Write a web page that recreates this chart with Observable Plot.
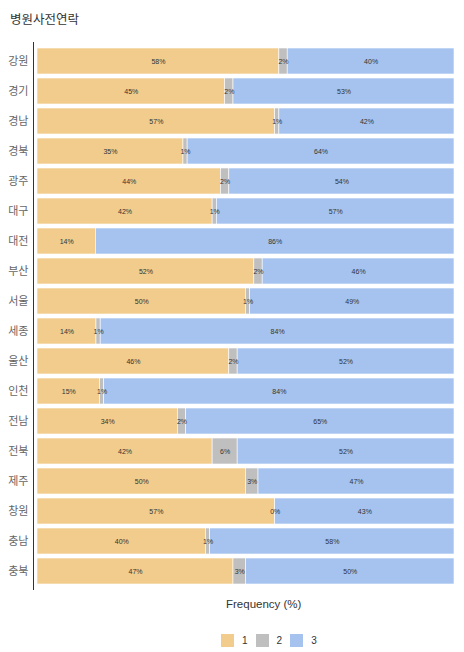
<!DOCTYPE html>
<html>
<head>
<meta charset="utf-8">
<script src="https://cdn.jsdelivr.net/npm/d3@7"></script>
<script src="https://cdn.jsdelivr.net/npm/@observablehq/plot@0.6"></script>
<style>
  html, body { margin: 0; padding: 0; background: #fff; }
  body { width: 464px; height: 652px; position: relative; overflow: hidden;
         font-family: "Liberation Sans", "Noto Sans CJK KR", sans-serif; }
  #title { position: absolute; left: 10px; top: 14px; font-size: 12.5px; line-height: 1; color: #333; z-index: 2; }
  #chart { position: absolute; left: 0; top: 0; z-index: 1; }
  #xlabel { position: absolute; left: 226px; top: 599px; font-size: 11.5px; line-height: 1; color: #333; z-index: 2; }
  #legend { position: absolute; left: 221px; top: 634px; display: flex; align-items: center; font-size: 10px; color: #333; z-index: 2; }
  .item { display: flex; align-items: center; margin-right: 8px; }
  .sw { width: 13px; height: 13px; margin-right: 8px; }
</style>
</head>
<body>
<div id="chart"></div>
<div id="title">병원사전연락</div>
<div id="xlabel">Frequency (%)</div>
<div id="legend"></div>
<script>
const regions = ["강원","경기","경남","경북","광주","대구","대전","부산","서울","세종","울산","인천","전남","전북","제주","창원","충남","충북"];
const series1 = [58,45,57,35,44,42,14,52,50,14,46,15,34,42,50,57,40,47];
const series2 = [2,2,1,1,2,1,null,2,1,1,2,1,2,6,3,0,1,3];
const series3 = [40,53,42,64,54,57,86,46,49,84,52,84,65,52,47,43,58,50];
const categories = ["1","2","3"];
const colors = ["#F1CC8C","#BFBFBF","#A5C3EE"];

const seriesList = [series1, series2, series3];
const data = [];
regions.forEach((r, i) => {
  categories.forEach((c, k) => {
    const v = seriesList[k][i];
    if (v !== null && v !== undefined) data.push({region: r, cat: c, value: v});
  });
});

const chart = Plot.plot({
  width: 464,
  height: 600,
  marginTop: 42,
  marginBottom: 11,
  marginLeft: 33,
  marginRight: 10,
  style: {fontFamily: '"Liberation Sans", "Noto Sans CJK KR", sans-serif', background: "transparent"},
  x: {domain: [0, 1], insetLeft: 4, axis: null},
  y: {domain: regions, padding: 0.15, label: null},
  color: {domain: categories, range: colors},
  marks: [
    Plot.barX(data, Plot.stackX({
      x: "value", y: "region", fill: "cat", offset: "normalize", order: categories,
      stroke: "white", strokeWidth: 0.6
    })),
    Plot.text(data, Plot.stackX({
      x: "value", y: "region", z: "cat", offset: "normalize", order: categories,
      text: d => d.value + "%", fill: "#333", fontSize: 7
    })),
    Plot.axisY({tickSize: 0, tickPadding: 5, fontSize: 11, fill: "#666", label: null}),
    Plot.frame({anchor: "left", stroke: "#333", strokeWidth: 1})
  ]
});
document.getElementById("chart").appendChild(chart);

const legend = document.getElementById("legend");
categories.forEach((c, k) => {
  const item = document.createElement("div");
  item.className = "item";
  const sw = document.createElement("div");
  sw.className = "sw";
  sw.style.background = colors[k];
  const t = document.createElement("span");
  t.textContent = c;
  item.appendChild(sw);
  item.appendChild(t);
  legend.appendChild(item);
});
</script>
</body>
</html>
